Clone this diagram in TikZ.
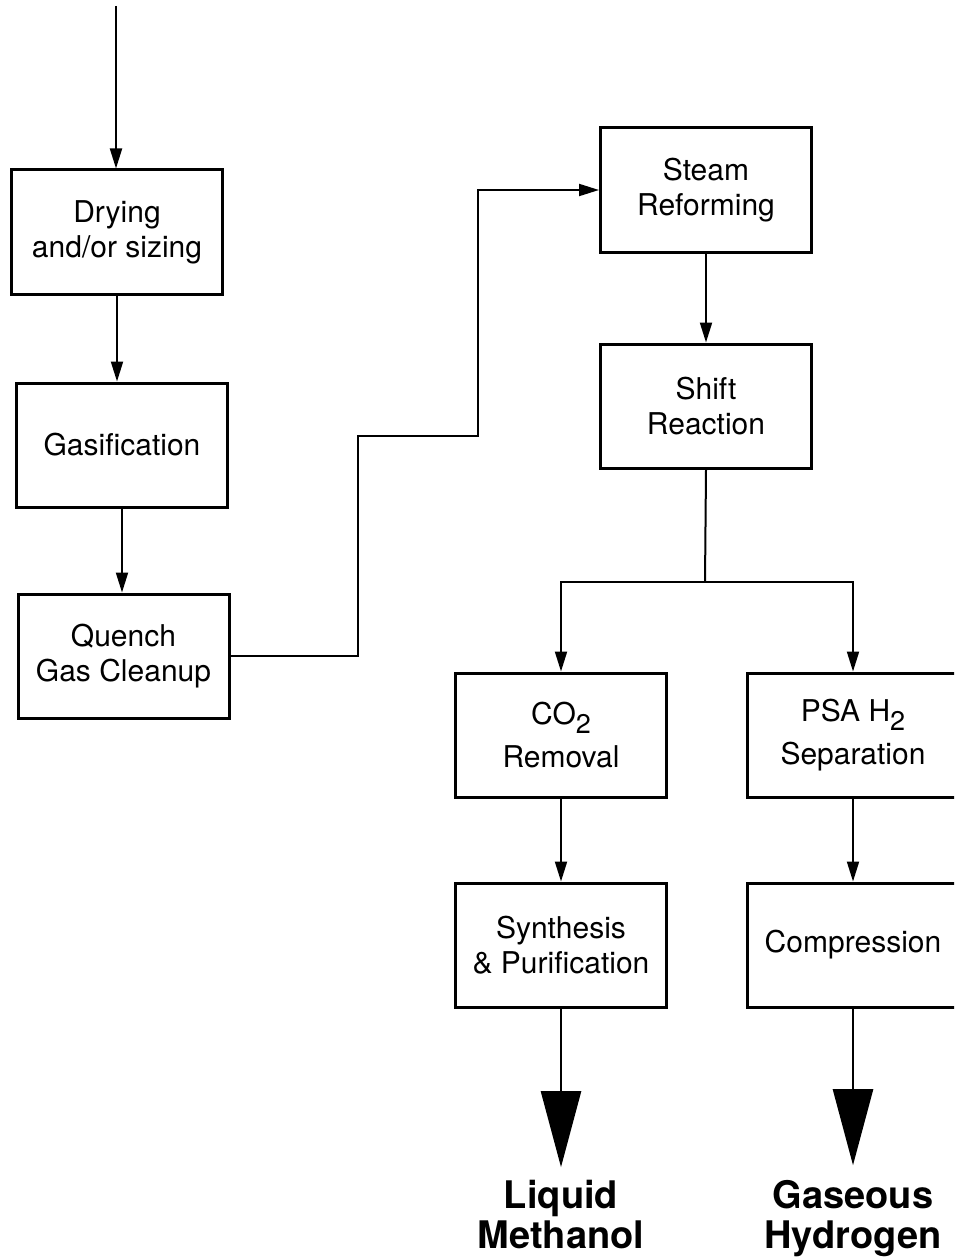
\documentclass[tikz,border=0pt]{standalone}
\usepackage{fontspec}
\setmainfont{TeX Gyre Heros}
\usetikzlibrary{arrows.meta}
\tikzstyle{line} = [draw, line width=2pt, -{Triangle[length=20pt,width=12pt]}]
\tikzstyle{plain} = [draw, line width=2pt]
\tikzstyle{bigline} = [draw, line width=2.5pt, -{Triangle[length=76pt,width=40pt]}]
\tikzstyle{block} = [rectangle, draw, line width=3pt, minimum width=211pt, minimum height=124pt, align=center, font=\fontsize{30}{35}\selectfont]
\tikzstyle{product} = [align=center, font=\fontsize{38}{40}\selectfont\bfseries]
\newcommand{\lowtwo}{\raisebox{-0.3em}{\fontsize{27}{27}\selectfont 2}}

\begin{document}
\begin{tikzpicture}[x=1pt, y=-1pt]
		\clip (0,0) rectangle (954,1260);
		
		\node [block] (dry) at (117,232) {Drying\\and/or sizing};
		\node [block, below of=dry, node distance=213pt, xshift=5pt] (gas) {Gasification};
		\node [block, below of=gas, node distance=211pt, xshift=1.5pt] (quench) {Quench\\Gas Cleanup};
		
		\node [block] (steam) at (706,190) {Steam\\Reforming};
		\node [block, below of=steam, node distance=216pt] (shift) {Shift\\Reaction};
		
		\node [block] (co2) at (561,735) {CO\lowtwo\\[8pt]Removal};
		\node [block, right of=co2, node distance=292pt] (psa) {PSA H\lowtwo\\[8pt]Separation};
		\node [block, below of=co2, node distance=210pt] (synth) {Synthesis\\\& Purification};
		\node [block, below of=psa, node distance=210pt] (comp) {Compression};
		
		\node [product, below of=synth, node distance=270pt] (meth) {Liquid\\Methanol};
		\node [product, below of=comp, node distance=270pt, yshift=-4pt] (hyd) {Gaseous\\Hydrogen};
		
		\coordinate (feed) at (116,6);
		\coordinate (j1) at (358,436);
		\coordinate (j2) at (478,0);
		\coordinate (split) at (705,582);
		
		\path [line] (feed) -- (feed |- dry.north);
		\path [line] (dry.south) -- (dry.south |- gas.north);
		\path [line] (gas.south) -- (gas.south |- quench.north);
		\path [line] (quench.east) -| (j1) -| (j2 |- steam.west) -- (steam.west);
		\path [line] (steam.south) -- (steam.south |- shift.north);
		\path [plain] (shift.south) -- (split);
		\path [line] (split) -| (co2.north);
		\path [line] (split) -| (psa.north);
		\path [line] (co2.south) -- (synth.north);
		\path [line] (psa.south) -- (comp.north);
		\path [bigline, shorten >=10pt] (synth.south) -- (meth.north);
		\path [bigline, shorten >=12pt] (comp.south) -- (hyd.north);
\end{tikzpicture}
\end{document}
